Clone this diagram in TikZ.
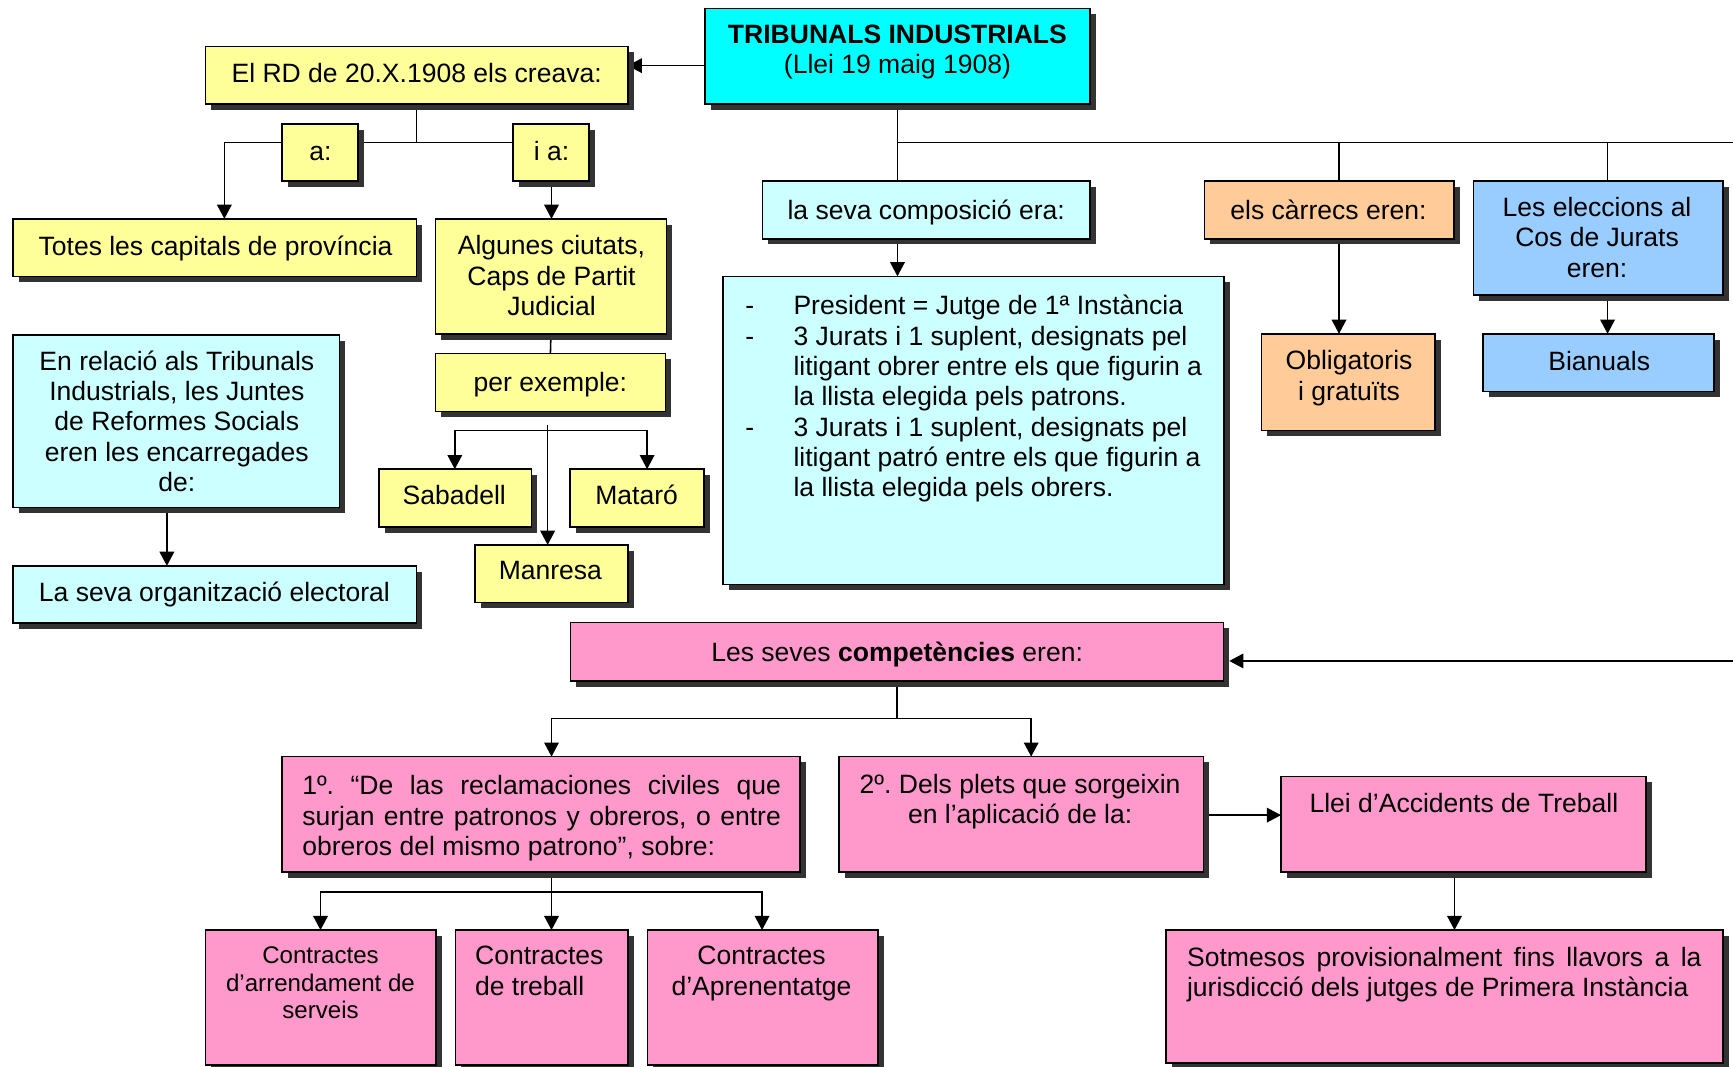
\documentclass[tikz,border=0pt]{standalone}
\usepackage{fontspec}
\setmainfont{Liberation Sans}
\frenchspacing
\usetikzlibrary{arrows.meta,shadows,backgrounds}
\definecolor{cCyan}{HTML}{00FFFF}
\definecolor{cYel}{HTML}{FFFF99}
\definecolor{cLcy}{HTML}{CCFFFF}
\definecolor{cOra}{HTML}{FFCC99}
\definecolor{cBlu}{HTML}{99CCFF}
\definecolor{cPink}{HTML}{FF99CC}
\newcommand\mybox[6]{%
  \node[boxst, fill=#6, minimum width={(#4-#2)*0.5pt}, minimum height={(#5-#3)*0.5pt}] (#1) at (#2,#3) {};}
\begin{document}
\begin{tikzpicture}[x=0.5pt,y=-0.5pt,
  boxst/.style={draw=black, line width=0.7pt, anchor=north west, inner sep=0pt, outer sep=0pt,
    drop shadow={shadow xshift=2.6pt, shadow yshift=-2.6pt, fill=black!80, opacity=1}},
  txt/.style={font=\fontsize{12}{13.7}\selectfont, inner sep=0pt, align=center,
    execute at begin node={\strut}, execute at end node={\strut}},
  smalltxt/.style={font=\fontsize{10.9}{12.6}\selectfont, inner sep=0pt, align=center,
    execute at begin node={\strut}, execute at end node={\strut}},
  conn/.style={line width=0.7pt, draw=black},
  arr/.style={conn, -{Triangle[length=6.4pt,width=6.6pt]}}]
\useasboundingbox (0,0) rectangle (1568,965);
% boxes
\mybox{trib}{638}{7.5}{986}{94}{cCyan}
\mybox{rd}{186}{42}{568}{94}{cYel}
\mybox{a}{255}{112}{324}{164}{cYel}
\mybox{ia}{464}{112}{533}{164}{cYel}
\mybox{totes}{12}{198}{377}{250}{cYel}
\mybox{alg}{394}{198}{603}{302}{cYel}
\mybox{perex}{394}{320}{602}{372.5}{cYel}
\mybox{sab}{343}{424.5}{481}{477}{cYel}
\mybox{mat}{515.5}{424.5}{637}{477}{cYel}
\mybox{man}{430}{493}{568}{545}{cYel}
\mybox{enrel}{12}{303}{307}{459}{cLcy}
\mybox{laseva}{12}{512}{377}{563.5}{cLcy}
\mybox{comp}{690}{164}{986}{216}{cLcy}
\mybox{list}{654}{250}{1107.6}{529}{cLcy}
\mybox{carr}{1090}{164}{1315.5}{216}{cOra}
\mybox{elec}{1333}{164}{1559}{267}{cBlu}
\mybox{oblig}{1141.5}{302}{1298.6}{389.7}{cOra}
\mybox{bian}{1342}{302}{1551}{354.4}{cBlu}
\mybox{compt}{516}{563.4}{1107}{616}{cPink}
\mybox{ca}{255}{684.6}{724}{789}{cPink}
\mybox{cb}{759}{684.6}{1089}{789}{cPink}
\mybox{llei}{1159}{702.7}{1489.5}{789}{cPink}
\mybox{sot}{1055}{841.5}{1559}{962}{cPink}
\mybox{ka}{186}{841.5}{394.6}{963.7}{cPink}
\mybox{kb}{412}{841.5}{568}{963.7}{cPink}
\mybox{kc}{586}{841.5}{794.6}{963.7}{cPink}
% texts
\node[txt] (tTrib) at (812,48.6) {\textbf{TRIBUNALS INDUSTRIALS}\\(Llei 19 maig 1908)};
\node[txt] (tRd) at (377,69.5) {El RD de 20.X.1908 els creava:};
\node[txt] (tA) at (290,140) {a:};
\node[txt] (tIa) at (499,140) {i a:};
\node[txt] (tTotes) at (195,226) {Totes les capitals de província};
\node[txt] (tAlg) at (499,253.5) {Algunes ciutats,\\Caps de Partit\\Judicial};
\node[txt] (tPer) at (498,348.4) {per exemple:};
\node[txt] (tSab) at (411,451) {Sabadell};
\node[txt] (tMat) at (576,451) {Mataró};
\node[txt] (tMan) at (498,519) {Manresa};
\node[txt] (tEnr) at (160,385) {En relació als Tribunals\\Industrials, les Juntes\\de Reformes Socials\\eren les encarregades\\de:};
\node[txt] (tLas) at (194,538.5) {La seva organització electoral};
\node[txt] (tComp) at (838,192.7) {la seva composició era:};
\node[txt] (tCarr) at (1202,192.7) {els càrrecs eren:};
\node[txt] (tElec) at (1445,218.7) {Les eleccions al\\Cos de Jurats\\eren:};
\node[txt] (tObl) at (1220.6,343.8) {Obligatoris\\i gratuïts};
\node[txt] (tBian) at (1447,330) {Bianuals};
\node[font=\fontsize{12}{13.7}\selectfont, inner sep=0pt, anchor=north west] (tList) at (674,265.4)
  {\begin{tabular}{@{}p{21.8pt}@{}l@{}}
  -&President = Jutge de 1ª Instància\\
  -&3 Jurats i 1 suplent, designats pel\\
   &litigant obrer entre els que figurin a\\
   &la llista elegida pels patrons.\\
  -&3 Jurats i 1 suplent, designats pel\\
   &litigant patró entre els que figurin a\\
   &la llista elegida pels obrers.
  \end{tabular}};
\node[txt] (tCompt) at (811.7,592.7) {Les seves \textbf{competències} eren:};
\node[txt, text width=216.5pt, align=justify] (tCa) at (490,741) {1º. “De las reclamaciones civiles que\linebreak surjan entre patronos y obreros, o entre\linebreak obreros del mismo patrono”, sobre:};
\node[txt] (tCb) at (923,726.9) {2º. Dels plets que sorgeixin\\en l’aplicació de la:};
\node[txt] (tLlei) at (1324.5,730) {Llei d’Accidents de Treball};
\node[txt, text width=232.75pt, align=justify] (tSot) at (1306.8,882.4) {Sotmesos provisionalment fins llavors a la\linebreak jurisdicció dels jutges de Primera Instància};
\node[smalltxt] (tKa) at (290,892.8) {Contractes\\d’arrendament de\\serveis};
\node[txt, anchor=west, align=left] (tKb) at (429.5,882.4) {Contractes\\de treball};
\node[txt] (tKc) at (689,882.4) {Contractes\\d’Aprenentatge};
% free ends
\coordinate (edgeT) at (1568,129);
\coordinate (edgeB) at (1568,598);
\coordinate (pe) at (495.5,384.6);
% connectors
\begin{pgfonlayer}{background}
\fill[white] (0,0) rectangle (1568,965);
\draw[arr] (trib.west |- 0,59.4) -- (rd.east |- 0,59.4);
\draw[conn] (rd.south) -- (377,129);
\draw[arr] (377,129) -| (203,0 |- totes.north);
\draw[arr] (377,129) -| (499,0 |- alg.north);
\draw[conn] (alg.south) -- (perex.north);
\draw[arr] (pe) -- (495.5,0 |- man.north);
\draw[arr] (495.5,389.7) -| (411.5,0 |- sab.north);
\draw[arr] (495.5,389.7) -| (585.5,0 |- mat.north);
\draw[arr] (151,0 |- enrel.south) -- (151,0 |- laseva.north);
\draw[conn] (trib.south) -- (trib.south |- comp.north);
\draw[conn] (trib.south |- edgeT) -- (edgeT);
\draw[conn] (1211.5,129) -- (1211.5,0 |- carr.north);
\draw[conn] (1454.5,129) -- (1454.5,0 |- elec.north);
\draw[arr] (trib.south |- comp.south) -- (trib.south |- list.north);
\draw[arr] (1211.5,0 |- carr.south) -- (1211.5,0 |- oblig.north);
\draw[arr] (1454.5,0 |- elec.south) -- (1454.5,0 |- bian.north);
\draw[arr] (edgeB) -- ([xshift=2.6pt]compt.east |- edgeB);
\draw[conn] (compt.south) -- (compt.south |- 0,650);
\draw[arr] (compt.south |- 0,650) -| (499,0 |- ca.north);
\draw[arr] (compt.south |- 0,650) -| (933,0 |- cb.north);
\draw[conn] (499,0 |- ca.south) -- (499,807);
\draw[arr] (499,807) -| (290,0 |- ka.north);
\draw[arr] (499,807) -- (499,0 |- kb.north);
\draw[arr] (499,807) -| (689.5,0 |- kc.north);
\draw[arr] (cb.east |- 0,737.5) -- (llei.west |- 0,737.5);
\draw[arr] (1316,0 |- llei.south) -- (1316,0 |- sot.north);
\end{pgfonlayer}
\end{tikzpicture}
\end{document}
